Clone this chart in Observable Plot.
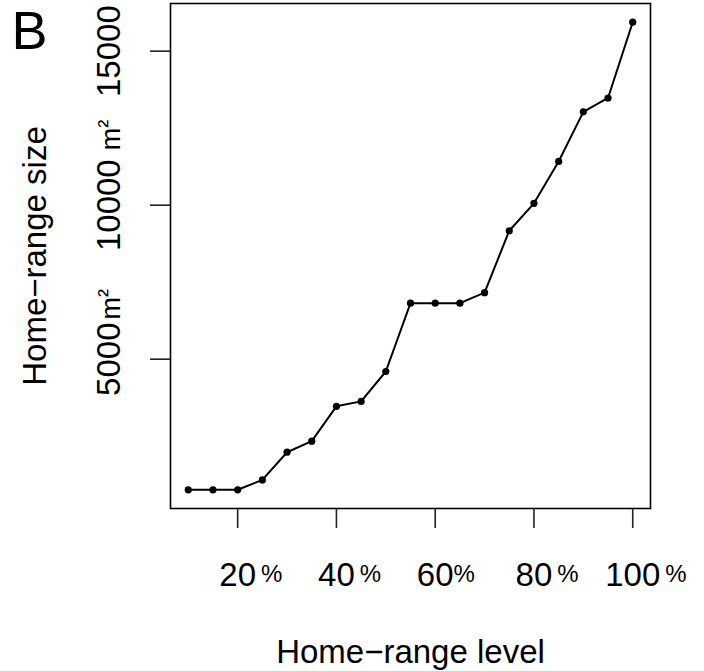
<!DOCTYPE html>
<html><head><meta charset="utf-8">
<script src="https://cdn.jsdelivr.net/npm/d3@7"></script>
<script src="https://cdn.jsdelivr.net/npm/@observablehq/plot@0.6"></script>
<style>html,body{margin:0;padding:0;background:#fff;}</style>
</head><body><div id="chart"></div>
<script>
const panelLabel = "B";
const xTitle = "Home−range level";
const yTitle = "Home−range size";
const levels = [10,15,20,25,30,35,40,45,50,55,60,65,70,75,80,85,90,95,100];
const sizes = [760,760,760,1080,1980,2340,3470,3630,4600,6820,6820,6820,7160,9170,10060,11420,13030,13480,15940];
const xTicks = [20,40,60,80,100];
const xTickLabels = ["20 %","40 %","60%","80 %","100 %"];
const yTicks = [5000,10000,15000];
const yTickLabels = ["5000m²","10000 m²","15000"];

const data = levels.map((l, i) => ({level: l, size: sizes[i]}));
const pad = e => { const d = (e[1] - e[0]) * 0.04; return [e[0] - d, e[1] + d]; };
const parse = s => { const m = s.match(/^(\d+)(\s*)(.*)$/); return {num: m[1], space: m[2].length > 0, unit: m[3]}; };

const svg = Plot.plot({
  width: 704, height: 671,
  marginLeft: 170, marginRight: 54, marginTop: 3, marginBottom: 163,
  style: {fontFamily: "'Liberation Sans', Arial, Helvetica, sans-serif", background: "#fff", color: "#000", overflow: "visible"},
  x: {domain: pad(d3.extent(levels))},
  y: {domain: pad(d3.extent(sizes))},
  marks: [
    Plot.frame({stroke: "#000", strokeWidth: 1.6}),
    Plot.axisX({ticks: xTicks, tickSize: 20, tickPadding: 34, fontSize: 33, label: null,
      tickFormat: d => parse(xTickLabels[xTicks.indexOf(d)]).num, stroke: "#222", strokeWidth: 1.6}),
    Plot.axisY({ticks: yTicks, tickSize: 20, tickRotate: -90, tickPadding: 31, fontSize: 33, label: null,
      tickFormat: d => parse(yTickLabels[yTicks.indexOf(d)]).num, stroke: "#222", strokeWidth: 1.6}),
    Plot.line(data, {x: "level", y: "size", stroke: "#000", strokeWidth: 2}),
    Plot.dot(data, {x: "level", y: "size", r: 3.6, fill: "#000"}),
    Plot.text([xTitle], {text: d => d, frameAnchor: "bottom", textAnchor: "middle", dy: 154, lineAnchor: "bottom", fontSize: 33, fill: "#000"}),
    Plot.text([yTitle], {text: d => d, frameAnchor: "left", textAnchor: "middle", dx: -125, rotate: -90, lineAnchor: "bottom", fontSize: 33, fill: "#000"}),
    Plot.text([panelLabel], {text: d => d, frameAnchor: "top-left", textAnchor: "start", lineAnchor: "bottom", dx: -159, dy: 45, fontSize: 54, fill: "#000"})
  ]
});
document.getElementById("chart").append(svg);

const NS = "http://www.w3.org/2000/svg";
function decorate(axisName, labels, addUnit) {
  svg.querySelectorAll(`g[aria-label="${axisName}"] text`).forEach(t => {
    const lab = labels.find(l => parse(l).num === t.textContent.trim());
    if (!lab) return;
    const p = parse(lab);
    if (!p.unit) return;
    const w = t.getComputedTextLength();
    const x0 = parseFloat(t.getAttribute("x")) || 0;
    t.setAttribute("text-anchor", "start");
    t.setAttribute("x", x0 - w / 2);
    addUnit(t, p);
  });
}
function tspan(parent, text, attrs) {
  const s = document.createElementNS(NS, "tspan");
  s.textContent = text;
  for (const k in attrs) s.setAttribute(k, attrs[k]);
  parent.append(s);
  return s;
}
decorate("x-axis tick label", xTickLabels, (t, p) => {
  tspan(t, p.unit, {"font-size": 24, dx: p.space ? 5 : 0, dy: -4});
});
decorate("y-axis tick label", yTickLabels, (t, p) => {
  const m = p.unit.match(/^(.*?)([²³]?)$/);
  tspan(t, m[1], {"font-size": 27, dx: p.space ? 9 : 3});
  if (m[2]) tspan(t, m[2], {"font-size": 24, dy: -5});
});
</script>
</body></html>
